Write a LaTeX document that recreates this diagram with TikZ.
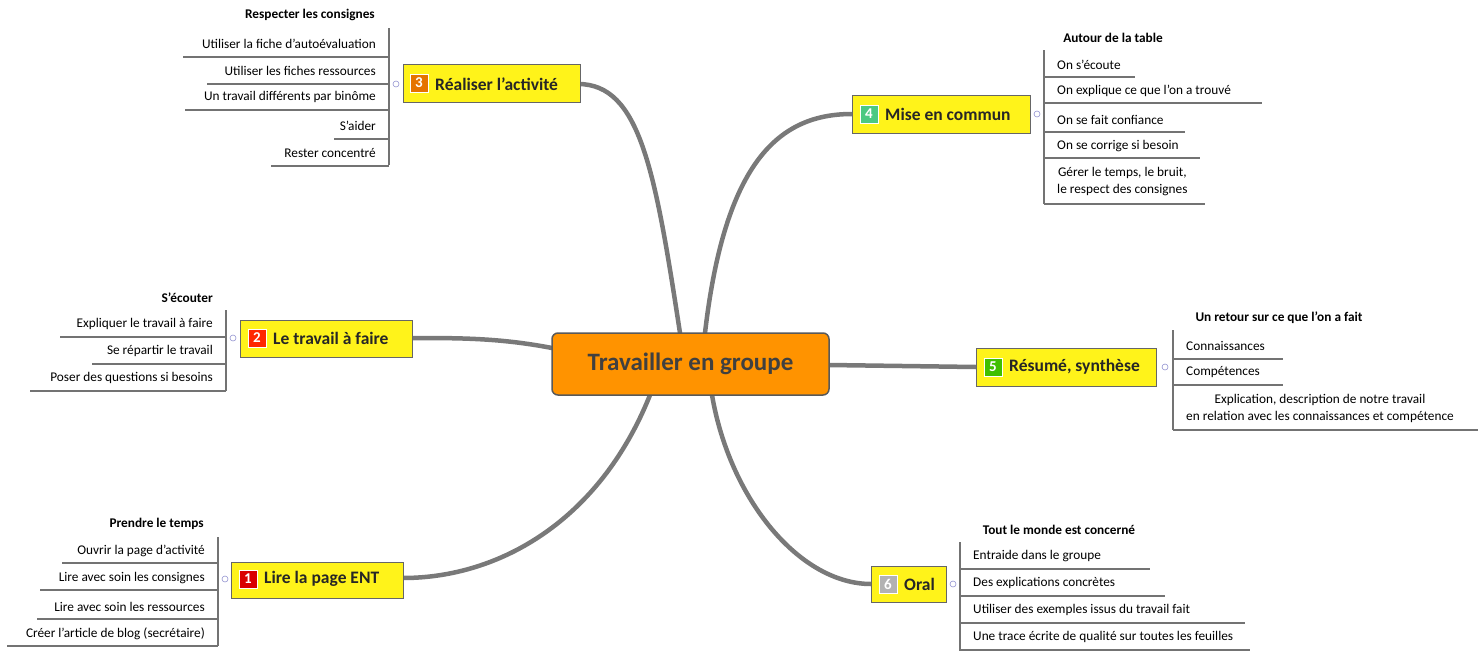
\documentclass[tikz,border=0pt]{standalone}
\usepackage{fontspec}
\setmainfont{Carlito}
\begin{document}
\begin{tikzpicture}[x=1pt,y=-1pt,
  br/.style={draw=gray!95!black,line width=4.5pt,line cap=round},
  topic/.style={draw=gray!80!black,line width=1.2pt,fill=yellow!90!white,inner sep=0pt,anchor=north west},
  ttl/.style={font=\fontsize{17.5}{18}\selectfont\bfseries,text=black!85,anchor=west,inner sep=0pt},
  badge/.style={minimum size=18pt,inner sep=0pt,text=white,font=\fontsize{15}{15}\selectfont\bfseries,draw=white,line width=0.5pt},
  itm/.style={font=\fontsize{13.3}{17}\selectfont,text=black,inner sep=0pt,align=center},
  hdr/.style={font=\fontsize{13.3}{14}\selectfont\bfseries,inner sep=0pt},
  ln/.style={draw=gray!90!black,line width=1.2pt},
  knob/.style={circle,draw=gray!60!blue!60,fill=white,minimum size=6pt,inner sep=0pt,line width=0.6pt}]
\useasboundingbox (0,0) rectangle (1483,664);
% branches
\coordinate (c3) at (680,333); \coordinate (c4) at (705,333);
\coordinate (c2) at (552,348); \coordinate (c5) at (829,365);
\coordinate (c1) at (650,395); \coordinate (c6) at (712,395);
\draw[br] (c3) .. controls (655,170) and (640,84) .. (578,84);
\draw[br] (c4) .. controls (725,160) and (780,114) .. (852,114);
\draw[br] (c2) .. controls (500,338) and (460,338) .. (412,338);
\draw[br] (c5) -- (976,367);
\draw[br] (c1) .. controls (600,520) and (500,578) .. (403,578);
\draw[br] (c6) .. controls (730,500) and (800,584) .. (871,584);
% center
\node[draw=gray!70!black,line width=1.5pt,fill=orange!85!yellow,rounded corners=6pt,minimum width=277pt,minimum height=62pt,font=\fontsize{25}{26}\selectfont\bfseries,text=black!75] (center) at (690.5,364) {Travailler en groupe};
% topics
\node[topic,minimum width=177pt,minimum height=38pt] (t3) at (403,64) {};
\node[badge,fill=orange!90!black] (b3) at (419,83) {3};
\node[ttl] (l3) at (435,84) {Réaliser l'activité};
\node[topic,minimum width=178pt,minimum height=38pt] (t4) at (852,95) {};
\node[badge,fill=teal!60!green!70] (b4) at (869,114) {4};
\node[ttl] (l4) at (885,114) {Mise en commun};
\node[topic,minimum width=172pt,minimum height=37pt] (t2) at (240,320) {};
\node[badge,fill=red!70!orange] (b2) at (257,338) {2};
\node[ttl] (l2) at (273,338) {Le travail à faire};
\node[topic,minimum width=180pt,minimum height=38pt] (t5) at (976,348) {};
\node[badge,fill=green!50!olive] (b5) at (993,367) {5};
\node[ttl] (l5) at (1009,367) {Résumé, synthèse};
\node[topic,minimum width=172pt,minimum height=36pt] (t1) at (231,562) {};
\node[badge,fill=red!85!black] (b1) at (248,579) {1};
\node[ttl] (l1) at (264,579) {Lire la page ENT};
\node[topic,minimum width=75pt,minimum height=36pt] (t6) at (871,566) {};
\node[badge,fill=gray!60] (b6) at (888,584) {6};
\node[ttl] (l6) at (904,584) {Oral};
% ---- group 3
\node[hdr,anchor=east] (h3) at (375,15) {Respecter les consignes};
\draw[ln] (389,28) -- (389,165);
\foreach \t/\y/\l [count=\i] in {Utiliser la fiche d'autoévaluation/44/183,Utiliser les fiches ressources/71/207,Un travail différents par binôme/97/185,S'aider/126/334,Rester concentré/153/271}{
  \node[itm,anchor=east] (g3\i) at (376,\y) {\t};
  \draw[ln] (\l,\y+13) -- (389,\y+13);
}
\node[knob] (k3) at (396,84) {};
% ---- group 4
\node[hdr] (h4) at (1113,38) {Autour de la table};
\draw[ln] (1044,50) -- (1044,204);
\foreach \t/\y/\r [count=\i] in {On s'écoute/65/1135,On explique ce que l'on a trouvé/91/1262,On se fait confiance/120/1185,On se corrige si besoin/146/1200}{
  \node[itm,anchor=west] (g4\i) at (1057,\y) {\t};
  \draw[ln] (1044,\y+12) -- (\r,\y+12);
}
\node[itm,anchor=west] (g45) at (1057,182) {Gérer le temps, le bruit,\\le respect des consignes};
\draw[ln] (1044,204) -- (1205,204);
\node[knob] (k4) at (1037,114) {};
% ---- group 2
\node[hdr,anchor=east] (h2) at (213,298) {S'écouter};
\draw[ln] (226,310) -- (226,391);
\foreach \t/\y/\l [count=\i] in {Expliquer le travail à faire/324/60,Se répartir le travail/351/92,Poser des questions si besoins/378/30}{
  \node[itm,anchor=east] (g2\i) at (213,\y) {\t};
  \draw[ln] (\l,\y+13) -- (226,\y+13);
}
\node[knob] (k2) at (233,338) {};
% ---- group 5
\node[hdr] (h5) at (1279,318) {Un retour sur ce que l'on a fait};
\draw[ln] (1173,330) -- (1173,430);
\foreach \t/\y [count=\i] in {Connaissances/346,Compétences/372}{
  \node[itm,anchor=west] (g5\i) at (1186,\y) {\t};
  \draw[ln] (1173,\y+13) -- (1283,\y+13);
}
\node[itm,anchor=west,align=center] (g53) at (1186,408) {Explication, description de notre travail\\en relation avec les connaissances et compétence};
\draw[ln] (1173,430) -- (1478,430);
\node[knob] (k5) at (1165,367) {};
% ---- group 1
\node[hdr,anchor=east] (h1) at (204,524) {Prendre le temps};
\draw[ln] (218,537) -- (218,646);
\foreach \t/\y/\l [count=\i] in {Ouvrir la page d'activité/551/62,Lire avec soin les consignes/578/40,Lire avec soin les ressources/607/37,Créer l'article de blog (secrétaire)/634/7}{
  \node[itm,anchor=east] (g1\i) at (205,\y) {\t};
  \draw[ln] (\l,\y+12) -- (218,\y+12);
}
\node[knob] (k1) at (225,579) {};
% ---- group 6
\node[hdr] (h6) at (1059,530) {Tout le monde est concerné};
\draw[ln] (960,542) -- (960,651);
\foreach \t/\y/\r [count=\i] in {Entraide dans le groupe/556/1150,Des explications concrètes/583/1165,Utiliser des exemples issus du travail fait/610/1245,Une trace écrite de qualité sur toutes les feuilles/637/1250}{
  \node[itm,anchor=west] (g6\i) at (973,\y) {\t};
  \draw[ln] (960,\y+13) -- (\r,\y+13);
}
\node[knob] (k6) at (953,584) {};
\end{tikzpicture}
\end{document}
